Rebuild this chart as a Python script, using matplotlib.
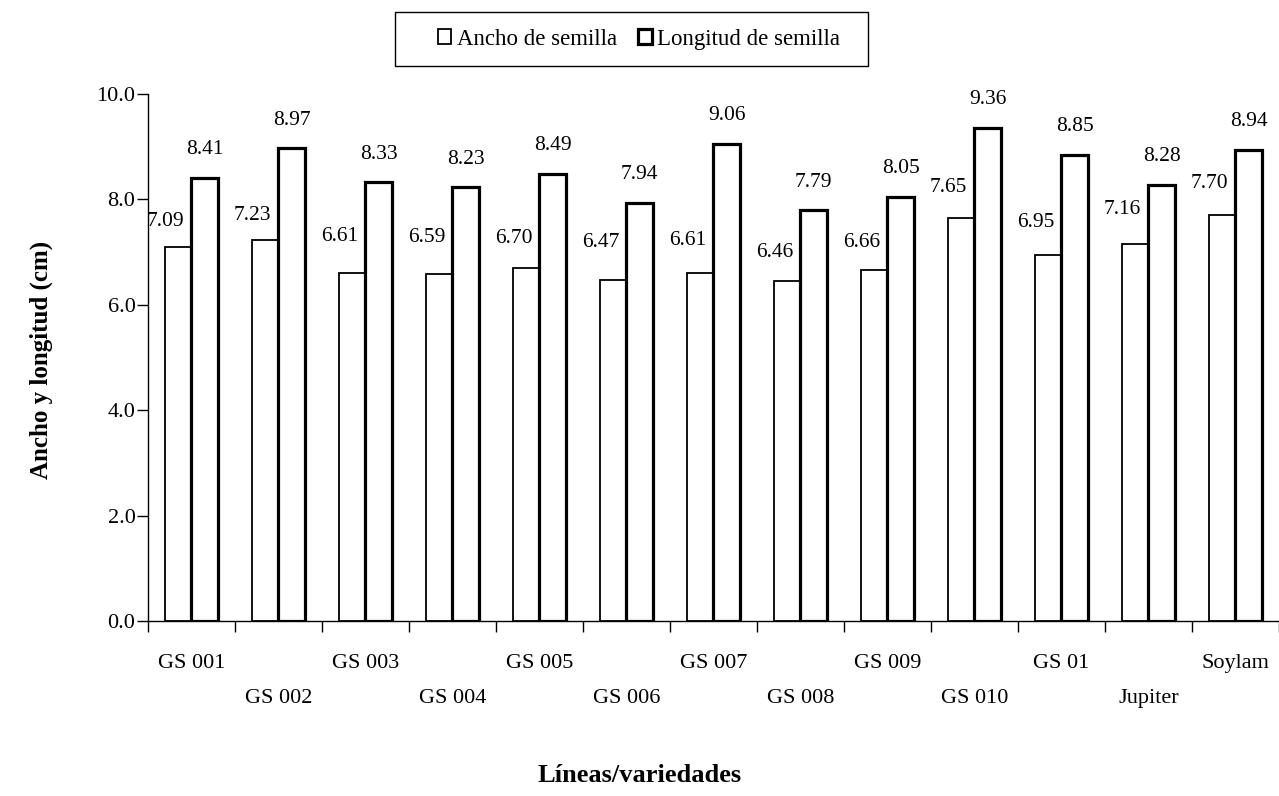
import matplotlib
matplotlib.use('Agg')
import matplotlib.pyplot as plt
from matplotlib.patches import Rectangle
import numpy as np

# data
lineas = ['GS 001', 'GS 002', 'GS 003', 'GS 004', 'GS 005', 'GS 006', 'GS 007',
          'GS 008', 'GS 009', 'GS 010', 'GS 01', 'Jupiter', 'Soylam']
ancho = [7.09, 7.23, 6.61, 6.59, 6.70, 6.47, 6.61, 6.46, 6.66, 7.65, 6.95, 7.16, 7.70]
longitud = [8.41, 8.97, 8.33, 8.23, 8.49, 7.94, 9.06, 7.79, 8.05, 9.36, 8.85, 8.28, 8.94]

# label lift above the first series bars (pixels), as placed in the original
ancho_lbl_dy = [26, 24, 36, 36, 29, 38, 32, 28, 28, 30, 32, 34, 32]

plt.rcParams['font.family'] = ['Liberation Serif', 'DejaVu Serif']

fig = plt.figure(figsize=(12.79, 7.96), dpi=100)
ax = fig.add_axes([0.1157, 0.2199, 0.8843, 0.662])

x = np.arange(len(lineas))
w = 0.30
b1 = ax.bar(x - w / 2, ancho, width=w, color='white', edgecolor='black',
            linewidth=1.3, label='Ancho de semilla')
b2 = ax.bar(x + w / 2, longitud, width=w, color='white', edgecolor='black',
            linewidth=2.3, label='Longitud de semilla')

px = 72.0 / 100
for i in range(len(lineas)):
    ax.annotate('%.2f' % ancho[i], (x[i] - w / 2, ancho[i]),
                xytext=(-13 * px, ancho_lbl_dy[i] * px), textcoords='offset points',
                ha='center', va='center', fontsize=15.5)
    ax.annotate('%.2f' % longitud[i], (x[i] + w / 2, longitud[i]),
                xytext=(0, 28 * px), textcoords='offset points',
                ha='center', va='center', fontsize=15.5)

ax.set_xlim(-0.5, len(lineas) - 0.5)
ax.set_ylim(0, 10)
ax.set_yticks(np.arange(0, 10.1, 2))
ax.set_yticklabels(['%.1f' % v for v in np.arange(0, 10.1, 2)])

ax.set_xticks(x)
ax.set_xticklabels(lineas)
ax.set_xticks(np.arange(-0.5, len(lineas), 1), minor=True)
ax.tick_params(axis='x', which='major', length=0, pad=24, labelsize=16)
ax.tick_params(axis='x', which='minor', length=8, width=1, direction='out')
ax.tick_params(axis='y', length=8, width=1, direction='out', labelsize=16, pad=1)
for t in ax.get_xticklabels()[1::2]:
    t.set_y(-0.066)

for s in ['top', 'right']:
    ax.spines[s].set_visible(False)
ax.spines['left'].set_linewidth(1)
ax.spines['bottom'].set_linewidth(1)

fig.text(0.032, 0.548, 'Ancho y longitud (cm)', rotation=90, ha='center', va='center',
         fontsize=18, fontweight='bold')
fig.text(0.50, 0.026, 'Líneas/variedades', ha='center', va='center',
         fontsize=19, fontweight='bold')

leg = fig.legend(handles=[b1, b2], loc='center', bbox_to_anchor=(0.4996, 0.951),
                 ncol=2, fontsize=16.5, frameon=False,
                 handlelength=0.6, handleheight=0.6, handletextpad=0.25,
                 columnspacing=0.9, borderpad=0.0)

# legend box, drawn wider than the entries like in the original
fig.patches.append(Rectangle((395 / 1279, 1 - 66 / 796), 473 / 1279, 54 / 796,
                             transform=fig.transFigure, fill=False,
                             edgecolor='black', linewidth=1))

fig.savefig('out.png', dpi=100)
